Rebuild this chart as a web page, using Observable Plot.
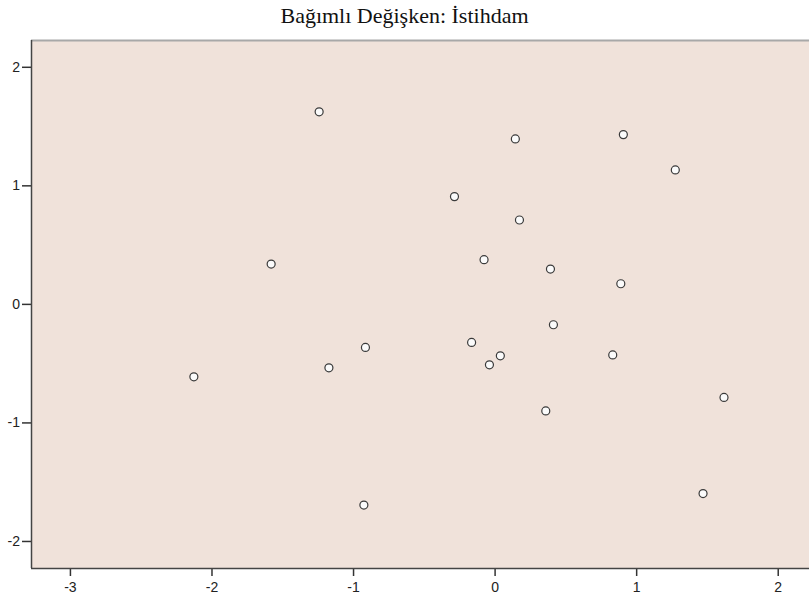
<!DOCTYPE html>
<html>
<head>
<meta charset="utf-8">
<script src="https://cdn.jsdelivr.net/npm/d3@7"></script>
<script src="https://cdn.jsdelivr.net/npm/@observablehq/plot@0.6"></script>
<style>
  html, body { margin: 0; padding: 0; background: #fff; }
  #title { box-sizing: border-box; height: 30px; padding-top: 2px; line-height: 28px; text-align: center; font-family: "Liberation Serif", "Times New Roman", serif; font-size: 22px; color: #111; width: 809px; white-space: nowrap; }
</style>
</head>
<body>
<div id="title">Bağımlı Değişken: İstihdam</div>
<div id="chart"></div>
<script>
const title = "Bağımlı Değişken: İstihdam";
const xValues = [-1.243, 0.143, 0.906, 1.273, -0.287, 0.172, -1.582, -0.078, 0.391, 0.888, 0.412,
                 -0.166, -0.916, 0.037, -0.040, -1.174, 0.831, -2.128, 0.358, 1.617, 1.469, -0.927];
const yValues = [1.624, 1.396, 1.432, 1.134, 0.909, 0.712, 0.340, 0.377, 0.298, 0.174, -0.172,
                 -0.321, -0.363, -0.434, -0.510, -0.535, -0.426, -0.611, -0.899, -0.785, -1.596, -1.693];
const xTicks = [-3, -2, -1, 0, 1, 2];
const yTicks = [-2, -1, 0, 1, 2];
const xDomain = [-3.275, 2.221];
const yDomain = [-2.228, 2.226];

const data = xValues.map((x, i) => ({x, y: yValues[i]}));

const chart = Plot.plot({
  width: 809,
  height: 570,
  marginTop: 10,
  marginBottom: 32,
  marginLeft: 31,
  marginRight: 0,
  style: {fontFamily: "'Liberation Sans', Arial, sans-serif", fontSize: "14px", color: "#222", background: "#fff"},
  x: {domain: xDomain, label: null},
  y: {domain: yDomain, label: null},
  marks: [
    Plot.frame({fill: "#F0E2DA", stroke: null}),
    Plot.ruleY([yDomain[1]], {stroke: "#a8a8a8", strokeWidth: 2}),
    Plot.ruleX([xDomain[1]], {stroke: "#e6dcd6", strokeWidth: 1}),
    Plot.axisX({ticks: xTicks, tickSize: 8, tickPadding: 6, tickFormat: d => String(d), label: null, fontSize: 14, stroke: "#333", strokeWidth: 1.5, fill: "#222"}),
    Plot.axisY({ticks: yTicks, tickSize: 9, tickPadding: 2.5, tickFormat: d => String(d), label: null, fontSize: 14, stroke: "#333", strokeWidth: 1.5, fill: "#222"}),
    Plot.ruleX([xDomain[0]], {stroke: "#444", strokeWidth: 1.5}),
    Plot.ruleY([yDomain[0]], {stroke: "#444", strokeWidth: 1.5}),
    Plot.dot(data, {x: "x", y: "y", r: 4, fill: "#fbfbfb", stroke: "#3a3a3a", strokeWidth: 1.2})
  ]
});
document.getElementById("chart").appendChild(chart);
</script>
</body>
</html>
